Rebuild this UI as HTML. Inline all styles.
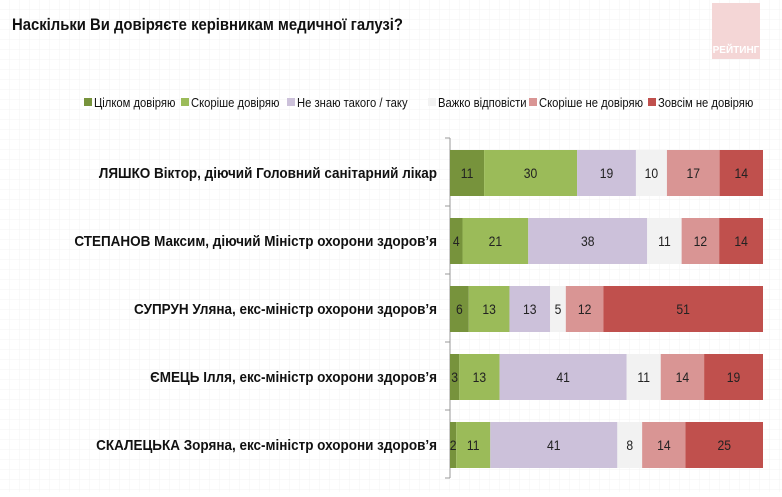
<!DOCTYPE html>
<html><head><meta charset="utf-8"><style>
body{margin:0;width:782px;height:492px;overflow:hidden;background:#fff;font-family:"Liberation Sans",sans-serif;}
svg text{font-family:"Liberation Sans","DejaVu Sans",sans-serif;}
</style></head><body>
<svg width="782" height="492">
<defs><pattern id="g" width="10" height="10" patternUnits="userSpaceOnUse"><path d="M10 0V10H0" fill="none" stroke="#f3f3f3" stroke-width="1"/></pattern></defs>
<rect width="782" height="492" fill="url(#g)"/>
<text x="12" y="30" font-size="16.5" font-weight="bold" fill="#111" transform="translate(12,0) scale(0.9,1) translate(-12,0)">Наскільки Ви довіряєте керівникам медичної галузі?</text>
<rect x="712" y="3" width="48" height="56" fill="#f4d6d6"/>
<text x="736" y="53" font-size="10" font-weight="bold" fill="#fff" text-anchor="middle">РЕЙТИНГ</text>
<g id="legend"></g>
<g id="plot"></g>
</svg>
<script>
const categories=["ЛЯШКО Віктор, діючий Головний санітарний лікар","СТЕПАНОВ Максим, діючий Міністр охорони здоров’я","СУПРУН Уляна, екс-міністр охорони здоров’я","ЄМЕЦЬ Ілля, екс-міністр охорони здоров’я","СКАЛЕЦЬКА Зоряна, екс-міністр охорони здоров’я"];
const seriesNames=["Цілком довіряю","Скоріше довіряю","Не знаю такого / таку","Важко відповісти","Скоріше не довіряю","Зовсім не довіряю"];
const s1=[11,4,6,3,2];
const s2=[30,21,13,13,11];
const s3=[19,38,13,41,41];
const s4=[10,11,5,11,8];
const s5=[17,12,12,14,14];
const s6=[14,14,51,19,25];
const colors=["#77933c","#9bbb59","#ccc1da","#f2f2f2","#d99594","#c0504d"];
const NS="http://www.w3.org/2000/svg";
const series=[s1,s2,s3,s4,s5,s6];
const x0=450,W=313,y0=150,step=68,bh=46;
const plot=document.getElementById('plot');
function mk(t,a,p){const e=document.createElementNS(NS,t);for(const k in a)e.setAttribute(k,a[k]);p.appendChild(e);return e;}
const ax=mk('line',{x1:x0,y1:138,x2:x0,y2:478,stroke:'#999'},plot);


for(let i=0;i<=categories.length;i++){const y=y0-12+i*step;const t=mk('line',{x1:x0-5,y1:y,x2:x0,y2:y,stroke:'#999'},plot);

}
categories.forEach((c,i)=>{
 const y=y0+i*step;
 const lb=mk('text',{x:437,y:y+bh/2+5,'font-size':15,'font-weight':'bold','text-anchor':'end',fill:'#111'},plot);
 lb.textContent=c;
 
 
 lb.setAttribute('transform',`translate(437,0) scale(0.9,1) translate(-437,0)`);
 const sum=series.reduce((a,s)=>a+s[i],0);let cx=x0;
 series.forEach((s,j)=>{const w=s[i]/sum*W;
  const r=mk('rect',{x:cx,y:y,width:w,height:bh,fill:colors[j]},plot);
  
  
  const t=mk('text',{x:cx+w/2,y:y+bh/2+5,'font-size':13.5,'text-anchor':'middle',fill:'#222'},plot);t.textContent=s[i];
  
  
  t.setAttribute('transform',`translate(${cx+w/2},0) scale(0.9,1) translate(${-(cx+w/2)},0)`);
  cx+=w;});
});
const lg=document.getElementById('legend');
const lx=[84,181,287,428,529,648];
seriesNames.forEach((n,j)=>{
 const r=mk('rect',{x:lx[j],y:98,width:8,height:8,fill:colors[j]},lg);
 
 
 const t=mk('text',{x:lx[j]+10,y:107,'font-size':12.5,fill:'#111'},lg);t.textContent=n;
 
 
 t.setAttribute('transform',`translate(${lx[j]+10},0) scale(0.9,1) translate(${-(lx[j]+10)},0)`);
});
</script>
</body></html>
